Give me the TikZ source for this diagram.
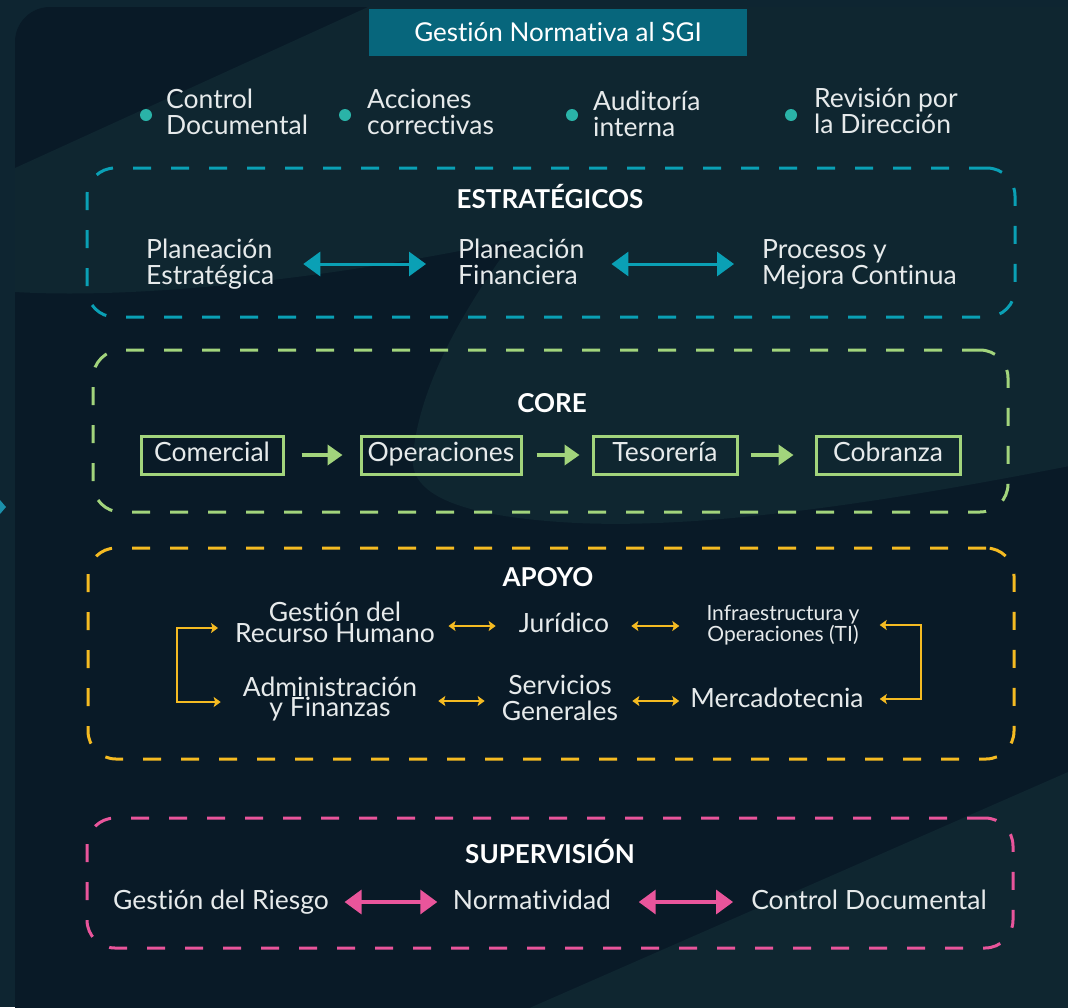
\documentclass[tikz,border=0pt]{standalone}
\usepackage{fontspec}
\setmainfont{Lato}[Ligatures={NoCommon}]
\usetikzlibrary{arrows.meta}
\definecolor{outerbg}{HTML}{0E2531}
\definecolor{panelbg}{HTML}{091A27}
\definecolor{lightbg}{HTML}{0F2630}
\definecolor{markc}{HTML}{1B90AB}
\definecolor{txtc}{HTML}{E6EAEB}
\definecolor{ttlbox}{HTML}{07667C}
\definecolor{dotc}{HTML}{2AB3A8}
\definecolor{tealc}{HTML}{0AA0B5}
\definecolor{greenc}{HTML}{A2D47C}
\definecolor{yelc}{HTML}{F5BB22}
\definecolor{pinkc}{HTML}{E9559B}
\newcommand{\mytop}{\rule{0pt}{20pt}}
\newcommand{\mybot}{\rule[-6pt]{0pt}{6pt}}
\newcommand{\smtop}{\rule{0pt}{16pt}}
\newcommand{\smbot}{\rule[-5pt]{0pt}{5pt}}
\tikzset{
  txt/.style={text=txtc, font=\fontsize{26.5}{26}\selectfont, inner sep=0pt},
  tighttxt/.style={text=txtc, font=\fontsize{26.5}{20.5}\selectfont, inner sep=0pt, align=center},
  smalltxt/.style={text=txtc, font=\fontsize{21}{21}\selectfont, inner sep=0pt, align=center},
  ttl/.style={text=white, font=\fontsize{26}{26}\selectfont\bfseries, inner sep=0pt},
  grpbox/.style={draw=#1, line width=3pt, dash pattern=on 18pt off 20pt, rounded corners=28pt, fill=none, inner sep=0pt},
  dotmark/.style={circle, fill=dotc, minimum size=12pt, inner sep=0pt},
  corebox/.style={draw=greenc, line width=3pt, inner sep=0pt, minimum height=38pt, text height=19pt, text depth=6pt, text=txtc, font=\fontsize{26.5}{26}\selectfont},
  tealarr/.style={draw=tealc, line width=3pt, {Triangle[width=24pt,length=17pt]}-{Triangle[width=24pt,length=17pt]}},
  pinkarr/.style={draw=pinkc, line width=3.5pt, {Triangle[width=24pt,length=17pt]}-{Triangle[width=24pt,length=17pt]}},
  greenarr/.style={draw=greenc, line width=4.5pt, -{Triangle[width=20pt,length=15pt]}},
  yelarr/.style={draw=yelc, line width=2pt, {Stealth[width=10pt,length=7pt,inset=1.5pt]}-{Stealth[width=10pt,length=7pt,inset=1.5pt]}},
}
\begin{document}
\begin{tikzpicture}[x=1pt,y=-1pt]
\useasboundingbox (0,0) rectangle (1068,1007);
% background
\fill[outerbg] (0,0) rectangle (1068,1007);
\fill[markc] (0,500) -- (6,507) -- (0,514) -- cycle;
\begin{scope}
  \clip[rounded corners=35pt] (15,7) rectangle (1100,1045);
  \fill[panelbg] (15,7) rectangle (1100,1045);
  \fill[lightbg] (368,7) -- (1100,7) -- (1100,460)
    .. controls (900,500) and (700,532) .. (560,522)
    .. controls (460,515) and (408,495) .. (413,455)
    .. controls (420,380) and (470,300) .. (514,240)
    .. controls (350,275) and (150,300) .. (15,292)
    -- (15,168) -- cycle;
  \fill[lightbg] (1100,758) -- (1100,1045) -- (445,1045) -- cycle;
\end{scope}

% title
\node[fill=ttlbox, minimum width=378pt, minimum height=47pt, inner sep=0pt, text=white,
      font=\fontsize{26}{26}\selectfont] (title) at (558,32.5) {Gestión Normativa al SGI};

% bullets
\node[dotmark] (d1) at (146,115) {};
\node[dotmark] (d2) at (345,115) {};
\node[dotmark] (d3) at (572,115) {};
\node[dotmark] (d4) at (791,115) {};
\node[txt, anchor=west, align=left] (b1) at (166,114.5) {\mytop Control\\Documental\mybot};
\node[txt, anchor=west, align=left] (b2) at (367,114.5) {\mytop Acciones\\correctivas\mybot};
\node[txt, anchor=west, align=left] (b3) at (593,116.5) {\mytop Auditoría\\interna\mybot};
\node[txt, anchor=west, align=left] (b4) at (814,113) {\mytop Revisión por\\la Dirección\mybot};

% ESTRATEGICOS
\node[grpbox=tealc, minimum width=928pt, minimum height=149pt] (est) at (551,242.5) {};
\node[ttl] (estt) at (550,197) {ESTRATÉGICOS};
\node[txt, anchor=west, align=left] (pe) at (146,264) {\mytop Planeación\\Estratégica\mybot};
\node[txt, anchor=west, align=left] (pf) at (458,264) {\mytop Planeación\\Financiera\mybot};
\node[txt, anchor=west, align=left] (pm) at (762,264) {\mytop Procesos y\\Mejora Continua\mybot};
\draw[tealarr, shorten <=29pt, shorten >=32pt] (pe.east |- 0,264) -- (pf.west |- 0,264);
\draw[tealarr, shorten <=27pt, shorten >=28pt] (pf.east |- 0,264) -- (pm.west |- 0,264);

% CORE
\node[grpbox=greenc, minimum width=915pt, minimum height=162pt] (core) at (550.5,431) {};
\node[ttl] (coret) at (552,403) {CORE};
\node[corebox, minimum width=142pt] (com) at (212,455) {Comercial};
\node[corebox, minimum width=160pt] (ope) at (441,455) {Operaciones};
\node[corebox, minimum width=144pt] (tes) at (665,455) {Tesorería};
\node[corebox, minimum width=144pt] (cob) at (888,455) {Cobranza};
\draw[greenarr, shorten <=17pt, shorten >=17pt] (com.east) -- (ope.west);
\draw[greenarr, shorten <=14pt, shorten >=12pt] (ope.east) -- (tes.west);
\draw[greenarr, shorten <=12pt, shorten >=21pt] (tes.east) -- (cob.west);

% APOYO
\node[grpbox=yelc, minimum width=926pt, minimum height=211pt] (apo) at (551,653.5) {};
\node[ttl] (apot) at (548,577) {APOYO};
\node[tighttxt] (grh) at (335,625) {\mytop Gestión del\\Recurso Humano\mybot};
\node[txt] (jur) at (564,625) {\mytop Jurídico\mybot};
\node[smalltxt] (inf) at (783,625) {\smtop Infraestructura y\\Operaciones (TI)\smbot};
\node[tighttxt] (adm) at (330,699.5) {\mytop Administración\\y Finanzas\mybot};
\node[txt, align=center] (ser) at (560,700) {\mytop Servicios\\Generales\mybot};
\node[txt] (mer) at (777,700) {\mytop Mercadotecnia\mybot};
\draw[yelarr, shorten <=13.5pt, shorten >=23pt] (grh.east |- 0,626) -- (jur.west |- 0,626);
\draw[yelarr, shorten <=22pt, shorten >=27pt] (jur.east |- 0,626) -- (inf.west |- 0,626);
\draw[yelarr, shorten <=21pt, shorten >=17pt] (adm.east |- 0,701) -- (ser.west |- 0,701);
\draw[yelarr, shorten <=14pt, shorten >=11pt] (ser.east |- 0,701) -- (mer.west |- 0,701);
\draw[yelarr] ([xshift=-17pt]grh.west |- 0,628) -- ++(-41pt,0) |- ([xshift=-22pt]adm.west |- 0,702);
\draw[yelarr] ([xshift=20pt]inf.east |- 0,625) -- ++(41pt,0) |- ([xshift=16pt]mer.east |- 0,699);

% SUPERVISION
\node[grpbox=pinkc, minimum width=926pt, minimum height=130pt] (sup) at (550,883) {};
\node[ttl] (supt) at (550,851) {SUPERVISIÓN};
\node[txt] (rie) at (221,902) {\mytop Gestión del Riesgo\mybot};
\node[txt] (nor) at (532,902) {\mytop Normatividad\mybot};
\node[txt] (cdo) at (869,902) {\mytop Control Documental\mybot};
\draw[pinkarr, shorten <=15.5pt, shorten >=15.5pt] (rie.east |- 0,902) -- (nor.west |- 0,902);
\draw[pinkarr, shorten <=27.5pt, shorten >=18pt] (nor.east |- 0,902) -- (cdo.west |- 0,902);
\end{tikzpicture}
\end{document}
